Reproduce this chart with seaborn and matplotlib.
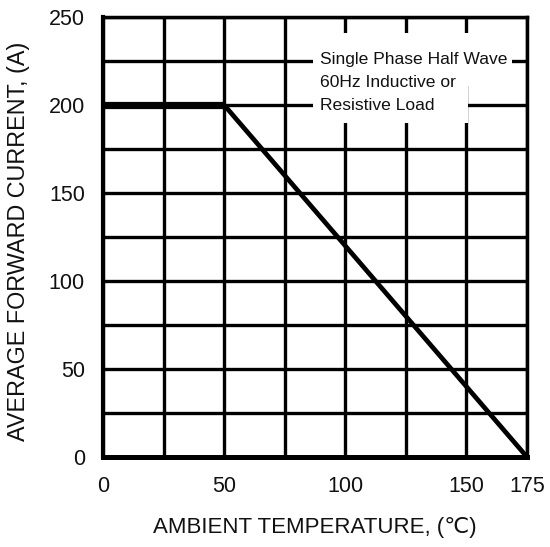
import matplotlib
matplotlib.use("Agg")
import matplotlib.pyplot as plt
from matplotlib.patches import Rectangle
import seaborn as sns
import pandas as pd
import numpy as np

# ---- data ----
temperature = [0, 50, 175]          # ambient temperature (°C)
current = [200, 200, 0]             # average forward current (A)
x_ticks = [0, 50, 100, 150, 175]
y_ticks = [0, 50, 100, 150, 200, 250]
grid_step = 25
note_lines = ["Single Phase Half Wave", "60Hz Inductive or", "Resistive Load"]

df = pd.DataFrame({"temp": temperature, "current": current})

sns.set_theme(style="white")
plt.rcParams["font.family"] = ["Liberation Sans", "DejaVu Sans"]

fig = plt.figure(figsize=(5.5, 5.47), dpi=100)
ax = fig.add_axes([103 / 550, 1 - 457 / 547, (527 - 103) / 550, (457 - 17) / 547])

# derating curve
sns.lineplot(data=df, x="temp", y="current", ax=ax, color="black",
             linewidth=3.4, zorder=3, solid_capstyle="butt")
flat = df[df["current"] == df["current"].max()]
sns.lineplot(data=flat, x="temp", y="current", ax=ax, color="black",
             linewidth=5.2, zorder=3, solid_capstyle="butt")

ax.set_xlim(0, 175)
ax.set_ylim(0, 250)

xt = np.arange(0, 175 + 1, grid_step)
yt = np.arange(0, 250 + 1, grid_step)
ax.set_xticks(xt)
ax.set_yticks(yt)
ax.set_xticklabels([str(v) if v in x_ticks else "" for v in xt])
ax.set_yticklabels([str(v) if v in y_ticks else "" for v in yt])
ax.tick_params(axis="both", length=0, labelsize=15.5, colors="#111111")
ax.tick_params(axis="y", pad=13)
ax.tick_params(axis="x", pad=14)

ax.set_axisbelow(True)
ax.grid(True, color="black", linewidth=2.4)

for side, lw in {"left": 3.0, "bottom": 3.6, "top": 2.5, "right": 2.5}.items():
    ax.spines[side].set_visible(True)
    ax.spines[side].set_color("black")
    ax.spines[side].set_linewidth(lw)

# white area behind the note
ax.add_patch(Rectangle((86.7, 189.8), 150.8 - 86.7, 240.9 - 189.8,
                       facecolor="white", edgecolor="none", zorder=1))
ax.add_patch(Rectangle((86.7, 211.0), 168.8 - 86.7, 240.9 - 211.0,
                       facecolor="white", edgecolor="none", zorder=1))
ax.text(89.6, 230.0, "\n".join(note_lines), ha="left", va="top",
        fontsize=12.6, linespacing=1.66, color="#111111", zorder=4)

ax.set_xlabel("AMBIENT TEMPERATURE, (\u2103)", fontsize=16, color="#111111",
              va="center")
ax.set_ylabel("AVERAGE FORWARD CURRENT, (A)", fontsize=16.8, color="#111111",
              va="center")
ax.xaxis.set_label_coords(0.5, (457 - 527) / 440)
ax.yaxis.set_label_coords((19 - 103) / 424, (457 - 241) / 440)

fig.savefig("out.png", dpi=100)
